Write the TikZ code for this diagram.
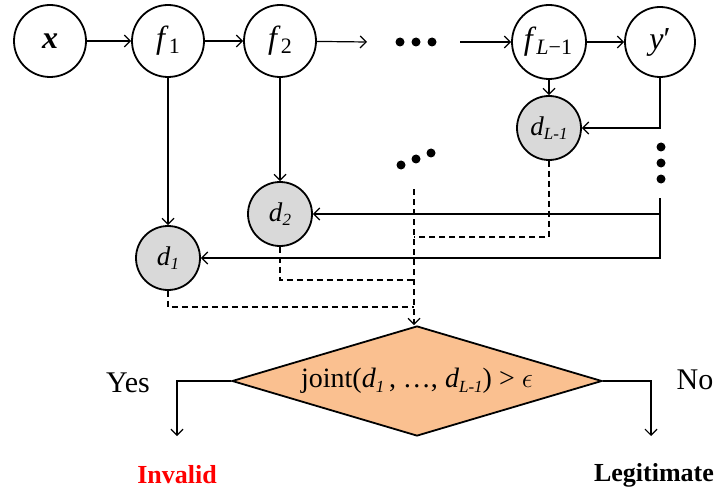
\RequirePackage{fix-cm}
\documentclass[tikz,border=0pt]{standalone}
\usepackage{fontspec}
\setmainfont{Liberation Serif}
\usetikzlibrary{arrows.meta,shapes.geometric}
\definecolor{peach}{RGB}{250,192,144}
\definecolor{dgrey}{RGB}{217,217,217}
\newcommand{\dsub}[1]{\textit{d}\raisebox{-0.35ex}{\fontsize{17}{19}\selectfont\itshape #1}}
\newcommand{\fsub}[1]{\textit{f}\raisebox{-0.3ex}{\fontsize{22}{24}\selectfont #1}}
\tikzset{
  fnode/.style={circle,draw,line width=1.8pt,minimum size=72pt,inner sep=0pt,font=\fontsize{32}{34}\selectfont},
  dnode/.style={circle,draw,line width=1.8pt,fill=dgrey,minimum size=64pt,inner sep=0pt,font=\fontsize{27}{30}\selectfont},
  conn/.style={line width=1.2pt,-{Straight Barb[length=6pt,width=12pt,line width=1.2pt]}},
  dline/.style={line width=1.2pt,dash pattern=on 6pt off 4pt},
  bigtxt/.style={font=\fontsize{30}{34}\selectfont},
  restxt/.style={font=\fontsize{26}{30}\selectfont\bfseries}
}
\begin{document}
\begin{tikzpicture}[x=1pt,y=-1pt]
\useasboundingbox (0,0) rectangle (719,497);
% top row
\node[fnode] (x) at (50,41) {\textbf{\textit{x}}};
\node[fnode] (f1) at (168,41) {\fsub{1}};
\node[fnode] (f2) at (280,41) {\fsub{2}};
\node[fnode,minimum size=74pt] (fL) at (549,42) {\kern-2pt\fsub{\textit{L}−1}};
\node[fnode,minimum size=70pt] (yp) at (660,42) {\textit{y}′};
% d nodes
\node[dnode] (dL) at (549,128) {\dsub{L-1}};
\node[dnode] (d2) at (280,214) {\dsub{2}};
\node[dnode] (d1) at (168,258) {\dsub{1}};
% diamond
\node[diamond,draw,line width=1.8pt,fill=peach,minimum width=370pt,minimum height=110pt,inner sep=0pt,shape aspect=3.36,font=\fontsize{28}{32}\selectfont] (dia) at (417,381) {joint(\dsub{1}\,, \dots, \dsub{L-1}) > $\epsilon$};
% coordinates
\coordinate (a1) at (367,42);
\coordinate (a2) at (460,42);
\coordinate (vb) at (660,198);
\coordinate (jt) at (414,189);
\coordinate (j1) at (414,237);
\coordinate (j2) at (414,280);
\coordinate (j3) at (414,307);
\coordinate (ye) at (177,436);
\coordinate (ne) at (651,436);
% connectors top
\draw[conn] (x) -- (f1);
\draw[conn] (f1) -- (f2);
\draw[conn] (f2) -- (a1);
\draw[conn] (a2) -- (fL);
\draw[conn] (fL) -- (yp);
\draw[conn] (fL) -- (dL);
\draw[conn] (f1) -- (d1);
\draw[conn] (f2) -- (d2);
\draw[conn] (yp.south) |- (dL.east);
\draw[conn] (vb) |- (d1.east);
\draw[conn] (vb |- d2.east) -- (d2.east);
% dashed
\draw[dline] (dL.south) |- (j1);
\draw[dline] (d2.south) |- (j2);
\draw[dline] (d1.south) |- (j3);
\draw[dline,-{Straight Barb[length=6pt,width=12pt,line width=1.2pt]}] (jt) -- (jt |- dia.north);
% outputs
\draw[conn] (dia.west) -| (ye);
\draw[conn] (dia.east) -| (ne);
% dots
\foreach \px in {400,416,432} \fill (\px,42) circle (4.5);
\fill (401,165) circle (4.5);
\fill (416,159) circle (4.5);
\fill (431,153) circle (4.5);
\foreach \py in {147,163,179} \fill (661,\py) circle (4.5);
% labels
\node[bigtxt] (yes) at (128,383) {Yes};
\node[bigtxt] (no) at (695,380) {No};
\node[restxt,text=red] (inv) at (177,475) {Invalid};
\node[restxt] (leg) at (654,475) {Legitimate};
\end{tikzpicture}
\end{document}
